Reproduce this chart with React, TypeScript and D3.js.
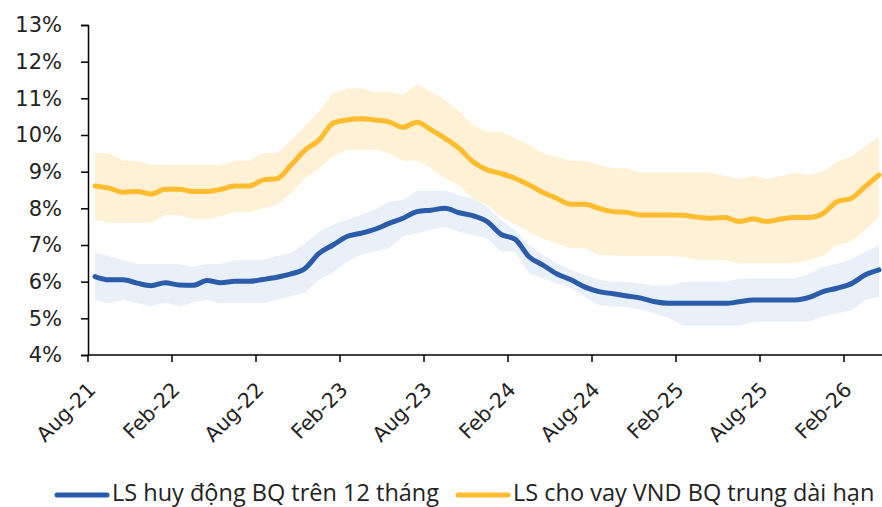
import React, { useEffect, useRef } from "react";
import * as d3 from "d3";

// monthly, Aug-21 .. Apr-26
const months: Date[] = d3.timeMonth.range(new Date(2021, 7, 1), new Date(2026, 4, 1));

const tickLabels = ["Aug-21", "Feb-22", "Aug-22", "Feb-23", "Aug-23", "Feb-24", "Aug-24", "Feb-25", "Aug-25", "Feb-26"];
const yTicks = [4, 5, 6, 7, 8, 9, 10, 11, 12, 13];

// LS huy động BQ trên 12 tháng
const deposit = [
  6.14, 6.05, 6.05, 5.96, 5.89, 5.97, 5.91, 5.9, 6.03, 5.97,
  6.01, 6.01, 6.06, 6.12, 6.21, 6.36, 6.77, 7.0, 7.23, 7.32,
  7.43, 7.59, 7.73, 7.91, 7.95, 8.0, 7.88, 7.8, 7.64, 7.29,
  7.16, 6.68, 6.45, 6.21, 6.05, 5.85, 5.73, 5.67, 5.61, 5.55,
  5.45, 5.41, 5.41, 5.41, 5.41, 5.41, 5.45, 5.5, 5.5, 5.5,
  5.5, 5.57, 5.73, 5.82, 5.94, 6.18, 6.32,
];
const depositHigh = [
  6.79, 6.7, 6.59, 6.48, 6.48, 6.48, 6.48, 6.41, 6.48, 6.48,
  6.59, 6.59, 6.59, 6.7, 6.79, 7.05, 7.36, 7.55, 7.68, 7.82,
  7.97, 8.18, 8.23, 8.48, 8.48, 8.48, 8.36, 8.27, 8.05, 7.68,
  7.41, 7.0, 6.73, 6.5, 6.32, 6.18, 6.05, 6.0, 6.0, 5.95,
  5.89, 5.89, 6.0, 6.0, 6.0, 6.0, 6.07, 6.09, 6.09, 6.09,
  6.09, 6.21, 6.41, 6.48, 6.61, 6.82, 7.0,
];
const depositLow = [
  5.5, 5.41, 5.5, 5.41, 5.32, 5.44, 5.32, 5.44, 5.5, 5.41,
  5.41, 5.41, 5.41, 5.5, 5.61, 5.7, 6.05, 6.25, 6.55, 6.73,
  6.82, 6.91, 7.23, 7.32, 7.41, 7.5, 7.36, 7.27, 7.18, 6.82,
  6.82, 6.23, 6.09, 5.95, 5.82, 5.59, 5.36, 5.32, 5.3, 5.23,
  5.14, 5.0, 4.8, 4.8, 4.8, 4.8, 4.8, 4.91, 4.91, 4.91,
  4.91, 4.91, 5.05, 5.14, 5.21, 5.5, 5.59,
];

// LS cho vay VND BQ trung dài hạn
const lending = [
  8.61, 8.55, 8.44, 8.46, 8.39, 8.52, 8.52, 8.46, 8.46, 8.52,
  8.61, 8.61, 8.77, 8.81, 9.18, 9.59, 9.86, 10.32, 10.41, 10.44,
  10.41, 10.36, 10.21, 10.35, 10.14, 9.91, 9.64, 9.27, 9.05, 8.95,
  8.82, 8.64, 8.43, 8.27, 8.11, 8.11, 8.0, 7.91, 7.89, 7.82,
  7.82, 7.82, 7.81, 7.76, 7.73, 7.75, 7.64, 7.71, 7.64, 7.71,
  7.75, 7.75, 7.86, 8.18, 8.27, 8.59, 8.91,
];
const lendingHigh = [
  9.5, 9.5, 9.3, 9.3, 9.18, 9.18, 9.18, 9.18, 9.18, 9.18,
  9.3, 9.3, 9.5, 9.5, 9.86, 10.25, 10.64, 11.14, 11.27, 11.27,
  11.18, 11.18, 11.09, 11.39, 11.18, 10.97, 10.64, 10.27, 10.09, 10.09,
  9.91, 9.73, 9.5, 9.39, 9.3, 9.3, 9.18, 9.09, 9.09, 8.98,
  8.98, 8.98, 8.98, 8.98, 8.98, 8.88, 8.8, 8.88, 8.8, 8.88,
  8.98, 8.91, 9.0, 9.27, 9.41, 9.68, 9.97,
];
const lendingLow = [
  7.68, 7.61, 7.61, 7.61, 7.61, 7.82, 7.82, 7.7, 7.7, 7.79,
  7.89, 7.89, 8.0, 8.09, 8.41, 8.82, 9.09, 9.41, 9.59, 9.59,
  9.6, 9.5, 9.3, 9.3, 9.09, 8.82, 8.64, 8.27, 8.09, 7.77,
  7.57, 7.36, 7.18, 7.05, 6.91, 6.91, 6.73, 6.72, 6.7, 6.7,
  6.7, 6.7, 6.68, 6.59, 6.59, 6.59, 6.5, 6.5, 6.5, 6.5,
  6.5, 6.59, 6.7, 7.0, 7.09, 7.41, 7.77,
];

const seriesNames = ["LS huy động BQ trên 12 tháng", "LS cho vay VND BQ trung dài hạn"];
const lineColors = ["#2A5CAA", "#FFBC2E"];
const bandColors = ["#D5E2F6", "#FFF1D5"];

export default function App() {
  const ref = useRef<SVGSVGElement>(null);

  useEffect(() => {
    const width = 882;
    const height = 507;
    const svg = d3.select(ref.current).attr("width", width).attr("height", height);
    svg.selectAll("*").remove();

    const tickFont = "'DejaVu Sans', sans-serif";
    const legendFont = "'Open Sans', sans-serif";
    const textColor = "#222";

    const x = d3
      .scaleBand<number>()
      .domain(months.map((_, i) => i))
      .range([88, 88 + months.length * 14])
      .paddingInner(0)
      .paddingOuter(0);
    const cx = (i: number) => (x(i) as number) + x.bandwidth() / 2;

    const y = d3.scaleLinear().domain([4, 13]).range([355, 25]);

    const idx = months.map((_, i) => i);

    const area = (lo: number[], hi: number[]) =>
      d3
        .area<number>()
        .x((i) => cx(i))
        .y0((i) => y(lo[i]))
        .y1((i) => y(hi[i]))(idx);

    const line = (v: number[]) =>
      d3
        .line<number>()
        .x((i) => cx(i))
        .y((i) => y(v[i]))
        .curve(d3.curveMonotoneX)(idx);

    // bands
    svg.append("path").attr("d", area(lendingLow, lendingHigh)).attr("fill", bandColors[1]);
    svg
      .append("path")
      .attr("d", area(depositLow, depositHigh))
      .attr("fill", bandColors[0])
      .attr("fill-opacity", 0.5);

    // lines
    [deposit, lending].forEach((s, k) => {
      svg
        .append("path")
        .attr("d", line(s))
        .attr("fill", "none")
        .attr("stroke", lineColors[k])
        .attr("stroke-width", 5)
        .attr("stroke-linecap", "round")
        .attr("stroke-linejoin", "round");
    });

    // y axis
    const yAxis = svg
      .append("g")
      .attr("transform", "translate(88,0)")
      .call(
        d3
          .axisLeft(y)
          .tickValues(yTicks)
          .tickSize(7)
          .tickPadding(19)
          .tickFormat((d) => `${d}%`)
      );
    yAxis.select(".domain").attr("stroke", "#000").attr("stroke-width", 1.5);
    yAxis.selectAll(".tick line").attr("stroke", "#000").attr("stroke-width", 1.5);
    yAxis
      .selectAll(".tick text")
      .attr("font-family", tickFont)
      .attr("font-size", 21)
      .attr("fill", textColor);

    // x axis
    const tickIdx = tickLabels.map((_, k) => k * 6);
    const xg = svg.append("g").attr("transform", "translate(0,355)");
    xg.append("line")
      .attr("x1", 88)
      .attr("x2", width)
      .attr("stroke", "#000")
      .attr("stroke-width", 1.5);
    tickIdx.forEach((ti, k) => {
      const tx = x(ti) as number;
      xg.append("line").attr("x1", tx).attr("x2", tx).attr("y1", 0).attr("y2", 7).attr("stroke", "#000").attr("stroke-width", 1.5);
      xg.append("text")
        .attr("transform", `translate(${tx + 9},${36}) rotate(-45)`)
        .attr("text-anchor", "end")
        .attr("font-family", tickFont)
        .attr("font-size", 20.5)
        .attr("fill", textColor)
        .text(tickLabels[k]);
    });

    // legend
    const legend = [
      { x: 55, name: seriesNames[0], color: lineColors[0] },
      { x: 456, name: seriesNames[1], color: lineColors[1] },
    ];
    legend.forEach((l) => {
      svg
        .append("line")
        .attr("x1", l.x + 2)
        .attr("x2", l.x + 52)
        .attr("y1", 495)
        .attr("y2", 495)
        .attr("stroke", l.color)
        .attr("stroke-width", 5)
        .attr("stroke-linecap", "round");
      svg
        .append("text")
        .attr("x", l.x + 57)
        .attr("y", 501)
        .attr("font-family", legendFont)
        .attr("font-size", 23.5)
        .attr("fill", textColor)
        .text(l.name);
    });
  }, []);

  return (
    <svg
      ref={ref}
      style={{ position: "absolute", left: 0, top: 0, display: "block", overflow: "visible" }}
    />
  );
}
